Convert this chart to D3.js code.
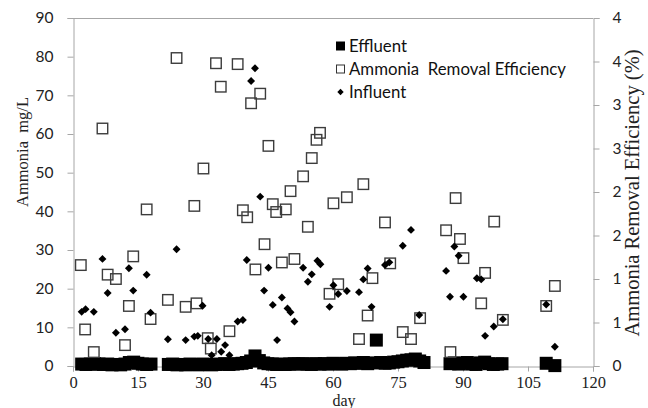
<!DOCTYPE html>
<html>
<head>
<meta charset="utf-8">
<script src="https://cdn.jsdelivr.net/npm/d3@7"></script>
<style>
  html, body { margin: 0; padding: 0; background: #fff; }
  svg { display: block; }
</style>
</head>
<body>
<svg id="chart" width="648" height="408"></svg>
<script>
// ---- data ----
const efficiencyDays = [1.8, 2.8, 4.8, 6.8, 8.0, 9.9, 12.0, 12.9, 13.9, 17.0, 17.9, 21.9, 23.9, 26.0, 28.0, 28.5, 30.1, 31.1, 31.8, 33.0, 34.1, 36.1, 38.0, 39.2, 40.2, 41.1, 42.1, 43.2, 44.2, 45.1, 46.1, 46.9, 48.2, 49.1, 50.2, 51.1, 53.1, 54.2, 55.1, 56.2, 57.0, 59.2, 60.1, 61.2, 63.2, 66.0, 67.0, 68.0, 69.1, 72.0, 73.2, 76.1, 78.0, 80.1, 86.1, 87.1, 88.3, 89.3, 90.1, 94.2, 95.1, 97.2, 99.2, 109.2, 111.2];
const efficiencyValues = [1.16, 0.42, 0.16, 2.73, 1.05, 1.00, 0.24, 0.69, 1.26, 1.80, 0.54, 0.76, 3.54, 0.68, 1.84, 0.72, 2.27, 0.32, 0.20, 3.48, 3.21, 0.40, 3.47, 1.79, 1.71, 3.02, 1.11, 3.13, 1.40, 2.53, 1.86, 1.77, 1.19, 1.80, 2.01, 1.23, 2.18, 1.60, 2.39, 2.60, 2.68, 0.83, 1.87, 0.94, 1.94, 0.31, 2.09, 0.58, 1.01, 1.65, 1.18, 0.39, 0.31, 0.55, 1.56, 0.16, 1.93, 1.46, 1.24, 0.72, 1.07, 1.66, 0.53, 0.69, 0.92];

const influentDays = [2.0, 2.9, 4.8, 6.8, 8.0, 9.9, 12.0, 12.9, 13.9, 17.0, 17.9, 21.9, 23.9, 26.0, 28.0, 28.8, 29.9, 31.2, 32.0, 33.2, 34.2, 35.1, 36.1, 38.0, 39.2, 40.1, 41.1, 42.0, 43.2, 44.1, 45.1, 46.1, 47.1, 48.2, 49.5, 50.2, 51.1, 53.1, 54.2, 55.1, 56.4, 57.1, 59.2, 60.1, 61.2, 63.2, 66.0, 67.0, 68.0, 68.9, 72.0, 73.0, 76.1, 78.0, 79.9, 86.1, 87.0, 88.0, 89.0, 90.1, 93.2, 94.2, 95.1, 97.1, 99.2, 109.2, 111.2];
const influentValues = [14.0, 14.7, 14.0, 27.7, 18.9, 8.6, 9.5, 25.3, 19.5, 23.6, 13.8, 6.9, 30.2, 6.7, 7.6, 7.8, 15.6, 7.0, 2.8, 7.0, 3.7, 5.4, 2.8, 11.5, 11.9, 27.4, 73.7, 77.0, 43.8, 19.5, 25.4, 15.8, 6.7, 17.7, 14.9, 13.9, 11.5, 25.4, 21.8, 23.7, 27.2, 26.3, 15.3, 20.9, 18.6, 19.4, 19.1, 22.4, 25.2, 15.3, 26.1, 26.8, 31.1, 35.2, 13.2, 24.6, 17.9, 30.9, 28.5, 17.9, 22.7, 22.4, 7.8, 10.2, 12.1, 15.9, 5.0];

const effluentDays = [2, 3, 4, 5, 6, 7, 8, 9, 10, 11, 12, 13, 14, 15, 16, 17, 18,
  22, 23, 24, 25, 26, 27, 28, 29, 30, 31, 32, 33, 34, 35, 36, 37, 38, 39, 40, 41,
  42, 43, 44, 45, 46, 47, 48, 49, 50, 51, 52, 53, 54, 55, 56, 57, 58, 59, 60, 61,
  62, 63, 64, 65, 66, 67, 68, 69, 70, 71, 72, 73, 74, 75, 76, 77, 78, 79, 80, 81,
  87, 88, 89, 90, 91, 92, 93, 94, 95, 96, 97, 98, 99,
  109.2, 111.2];
const effluentValues = [0.5, 0.4, 0.5, 0.6, 0.5, 0.4, 0.5, 0.3, 0.4, 0.3, 0.5, 0.9, 1.0, 0.7, 0.5, 0.4, 0.5,
  0.4, 0.5, 0.3, 0.4, 0.3, 0.5, 0.4, 0.3, 0.5, 0.4, 0.3, 0.4, 0.5, 0.6, 0.4, 0.5, 0.6, 0.7, 0.9, 1.3,
  2.6, 1.4, 0.8, 0.6, 0.5, 0.4, 0.5, 0.4, 0.5, 0.6, 0.5, 0.6, 0.5, 0.4, 0.6, 0.5, 0.6, 0.5, 0.7, 0.6,
  0.5, 0.7, 0.6, 0.8, 0.7, 0.9, 0.6, 0.8, 6.7, 0.9, 0.7, 0.8, 1.0, 1.1, 1.3, 1.5, 1.6, 1.8, 1.3, 0.9,
  0.6, 0.8, 0.5, 0.7, 0.9, 0.5, 0.4, 0.8, 1.0, 0.6, 0.4, 0.5, 0.6,
  0.7, 0.1];

const xTicks = [0, 15, 30, 45, 60, 75, 90, 105, 120];
const leftTicks = [0, 10, 20, 30, 40, 50, 60, 70, 80, 90];
const rightTicks = [0, 0.5, 1, 1.5, 2, 2.5, 3, 3.5, 4];
const rightTickLabels = ["0", "1", "1", "2", "2", "3", "3", "4", "4"];
const legendLabels = ["Effluent", "Ammonia  Removal Efficiency", "Influent"];

// ---- layout ----
const L = 73, R = 593, T = 18, B = 366;
const axisColor = "#a6a6a6";
const sansFont = "Lato, 'Noto Sans', sans-serif";
const serifFont = "'Liberation Serif', 'DejaVu Serif', serif";

const svg = d3.select("#chart");
const x = d3.scaleLinear().domain([0, 120]).range([L, R]);
const yL = d3.scaleLinear().domain([0, 90]).range([B, T]);
const yR = d3.scaleLinear().domain([0, 4]).range([B, T]);

// plot frame (top line)
svg.append("line").attr("x1", L).attr("x2", R).attr("y1", T + 0.5).attr("y2", T + 0.5)
  .attr("stroke", axisColor).attr("stroke-width", 1);

// left axis
const gL = svg.append("g").attr("transform", `translate(${L + 0.5},0)`)
  .call(d3.axisLeft(yL).tickValues(leftTicks).tickSize(6).tickPadding(14));
// right axis
const gR = svg.append("g").attr("transform", `translate(${R + 0.5},0)`)
  .call(d3.axisRight(yR).tickValues(rightTicks).tickSize(6).tickPadding(13)
    .tickFormat((d, i) => rightTickLabels[i]));
// bottom axis
const gB = svg.append("g").attr("transform", `translate(0,${B + 0.5})`)
  .call(d3.axisBottom(x).tickValues(xTicks).tickSize(5).tickPadding(5));

[gL, gR, gB].forEach(g => {
  g.selectAll("path.domain").attr("stroke", axisColor);
  g.selectAll(".tick line").attr("stroke", axisColor);
});
[gL, gR].forEach(g => g.selectAll(".tick text")
  .attr("font-family", sansFont).attr("font-size", 15.5).attr("fill", "#222"));
gB.selectAll(".tick text").attr("font-family", serifFont).attr("font-size", 16.5).attr("fill", "#222");

// axis titles
svg.append("text").attr("transform", "translate(28,152) rotate(-90)")
  .attr("text-anchor", "middle").attr("font-family", serifFont).attr("font-size", 16.5)
  .attr("fill", "#222").attr("xml:space", "preserve").text("Ammonia  mg/L");
svg.append("text").attr("transform", "translate(639,193) rotate(-90)")
  .attr("text-anchor", "middle").attr("font-family", serifFont).attr("font-size", 20.5)
  .attr("fill", "#222").text("Ammonia Removal Efficiency (%)");
svg.append("text").attr("x", 344).attr("y", 406)
  .attr("text-anchor", "middle").attr("font-family", serifFont).attr("font-size", 16)
  .attr("fill", "#222").text("day");

// ---- marks ----
const effluent = effluentDays.map((d, i) => ({ d, v: effluentValues[i] }));
const efficiency = efficiencyDays.map((d, i) => ({ d, v: efficiencyValues[i] }));
const influent = influentDays.map((d, i) => ({ d, v: influentValues[i] }));

const es = 13;
svg.append("g").selectAll("rect").data(effluent).join("rect")
  .attr("x", p => x(p.d) - es / 2).attr("y", p => yL(p.v) - es / 2)
  .attr("width", es).attr("height", es).attr("fill", "#000");

const ss = 10.5;
svg.append("g").selectAll("rect").data(efficiency).join("rect")
  .attr("x", p => x(p.d) - ss / 2).attr("y", p => yR(p.v) - ss / 2)
  .attr("width", ss).attr("height", ss).attr("fill", "none")
  .attr("stroke", "#3c3c3c").attr("stroke-width", 1.4);

const diamond = d3.symbol().type(d3.symbolDiamond2).size(40);
svg.append("g").selectAll("path").data(influent).join("path")
  .attr("transform", p => `translate(${x(p.d)},${yL(p.v)})`)
  .attr("d", diamond).attr("fill", "#000");

// ---- legend ----
const lg = svg.append("g");
const rowsY = [46, 69, 92];
lg.append("rect").attr("x", 336).attr("y", rowsY[0] - 4.5).attr("width", 9).attr("height", 9).attr("fill", "#000");
lg.append("rect").attr("x", 336.5).attr("y", rowsY[1] - 4).attr("width", 8).attr("height", 8)
  .attr("fill", "none").attr("stroke", "#333").attr("stroke-width", 1);
lg.append("path").attr("transform", `translate(340.5,${rowsY[2]})`)
  .attr("d", d3.symbol().type(d3.symbolDiamond2).size(26)).attr("fill", "#000");
lg.selectAll("text").data(legendLabels).join("text")
  .attr("x", 349).attr("y", (d, i) => rowsY[i]).attr("dy", "0.36em")
  .attr("font-family", sansFont).attr("font-size", 16.8).attr("fill", "#111")
  .attr("xml:space", "preserve").text(d => d);
</script>
</body>
</html>
